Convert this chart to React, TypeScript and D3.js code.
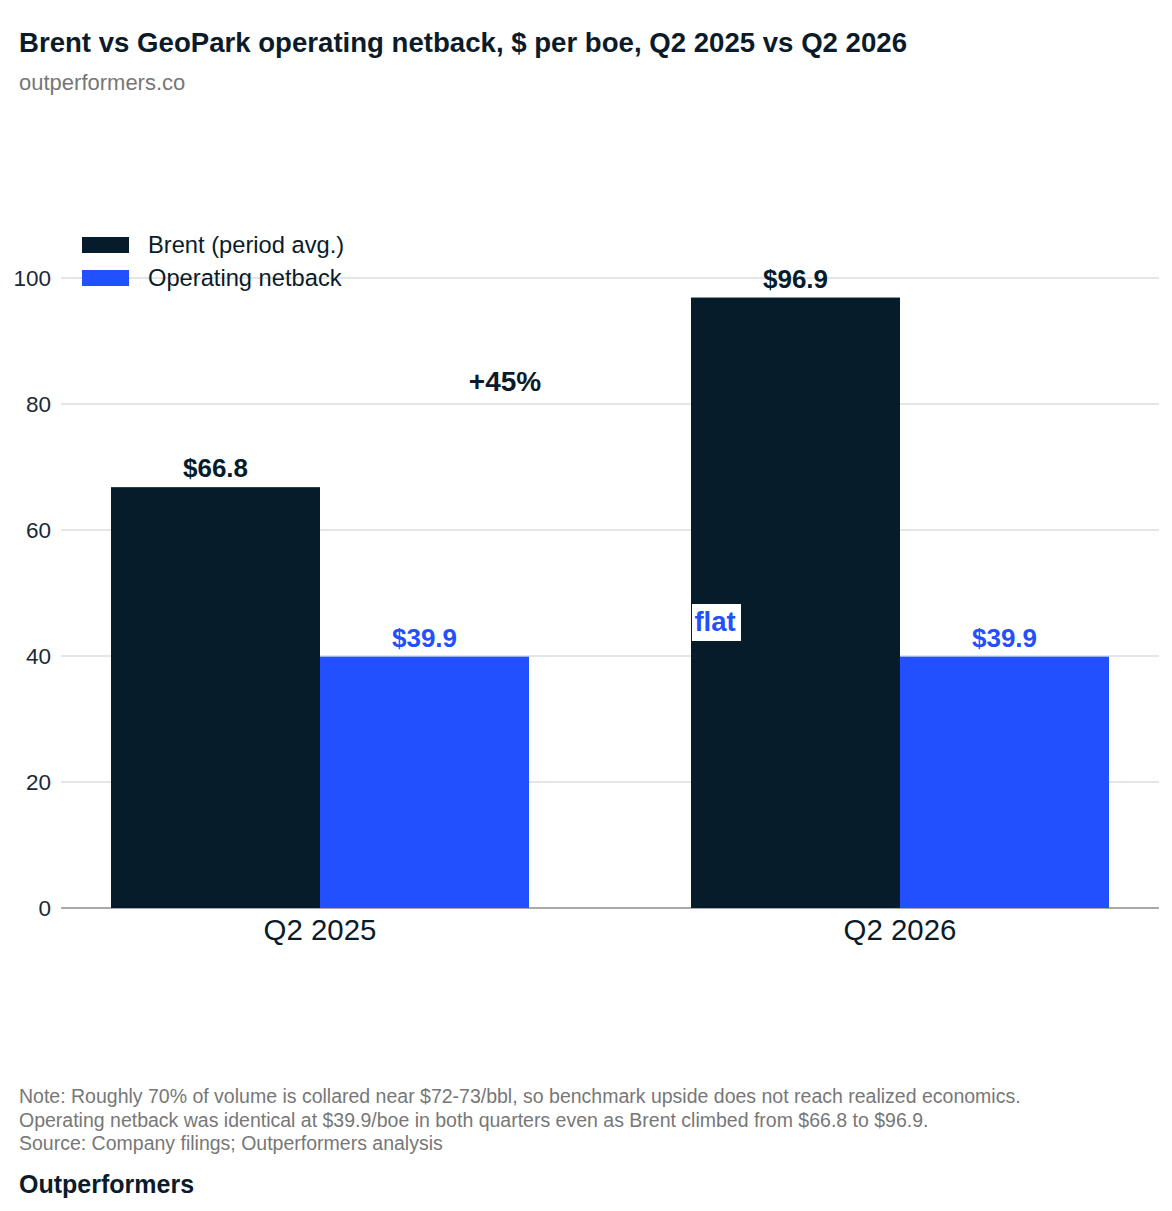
import React from "react";
import * as d3 from "d3";

const categories = ["Q2 2025", "Q2 2026"];
const seriesNames = ["Brent (period avg.)", "Operating netback"];
const brent = [66.8, 96.9];
const netback = [39.9, 39.9];
const yTicks = [0, 20, 40, 60, 80, 100];
const notes = [
  "Note: Roughly 70% of volume is collared near $72-73/bbl, so benchmark upside does not reach realized economics.",
  "Operating netback was identical at $39.9/boe in both quarters even as Brent climbed from $66.8 to $96.9.",
  "Source: Company filings; Outperformers analysis",
];
const colors = ["#061c2b", "#2350ff"];

export default function App() {
  const W = 1172, H = 1211;
  const y = d3.scaleLinear().domain([0, 100]).range([908, 278]);
  const x = d3.scaleBand().domain(categories).range([30, 1190]).padding(0);
  const xs = d3.scaleBand().domain(seriesNames).range([0, x.bandwidth()]).paddingInner(0).paddingOuter(0.3876);
  const values = [brent, netback];
  const font = "'Liberation Sans', Arimo, Arial, sans-serif";
  return (
    <svg width={W} height={H} fontFamily={font} style={{ position: "absolute", left: 0, top: 0 }}>
      <rect width={W} height={H} fill="#fff" />
      <text x={19} y={52} fontSize={27.6} fontWeight="bold" fill="#0b1b2a">Brent vs GeoPark operating netback, $ per boe, Q2 2025 vs Q2 2026</text>
      <text x={19} y={90} fontSize={22} fill="#777">outperformers.co</text>
      {yTicks.map((t) => (
        <g key={t}>
          <line x1={61} x2={1159} y1={y(t)} y2={y(t)} stroke={t === 0 ? "#aaa" : "#ddd"} strokeWidth={t === 0 ? 2 : 1.5} />
          <text x={51} y={y(t) + 8} fontSize={22.5} textAnchor="end" fill="#1a2a36">{t}</text>
        </g>
      ))}
      {categories.map((c, ci) =>
        seriesNames.map((s, si) => {
          const bx = x(c)! + xs(s)!;
          const v = values[si][ci];
          return (
            <g key={c + s}>
              <rect x={bx} y={y(v)} width={xs.bandwidth()} height={y(0) - y(v)} fill={colors[si]} />
              <text x={bx + xs.bandwidth() / 2} y={y(v) - 10} textAnchor="middle" fontSize={26} fontWeight="bold" fill={colors[si]}>${v.toFixed(1)}</text>
            </g>
          );
        })
      )}
      {categories.map((c) => (
        <text key={c} x={x(c)! + x.bandwidth() / 2} y={940} textAnchor="middle" fontSize={29.4} fill="#0b1b2a">{c}</text>
      ))}
      <text x={505} y={391} textAnchor="middle" fontSize={28} fontWeight="bold" fill="#0b1b2a">+{Math.round((brent[1] / brent[0] - 1) * 100)}%</text>
      <rect x={692} y={604} width={49} height={37} fill="#fff" />
      <text x={715} y={631} textAnchor="middle" fontSize={27.5} fontWeight="bold" fill={colors[1]}>flat</text>
      {seriesNames.map((s, i) => (
        <g key={s}>
          <rect x={82} y={237 + i * 33} width={47} height={16} fill={colors[i]} />
          <text x={148} y={253 + i * 33} fontSize={23.7} fill="#0b1b2a">{s}</text>
        </g>
      ))}
      {notes.map((n, i) => (
        <text key={i} x={19} y={1103 + i * 23.5} fontSize={19.5} fill="#777">{n}</text>
      ))}
      <text x={19} y={1193} fontSize={25} fontWeight="bold" fill="#0b1b2a">Outperformers</text>
    </svg>
  );
}
